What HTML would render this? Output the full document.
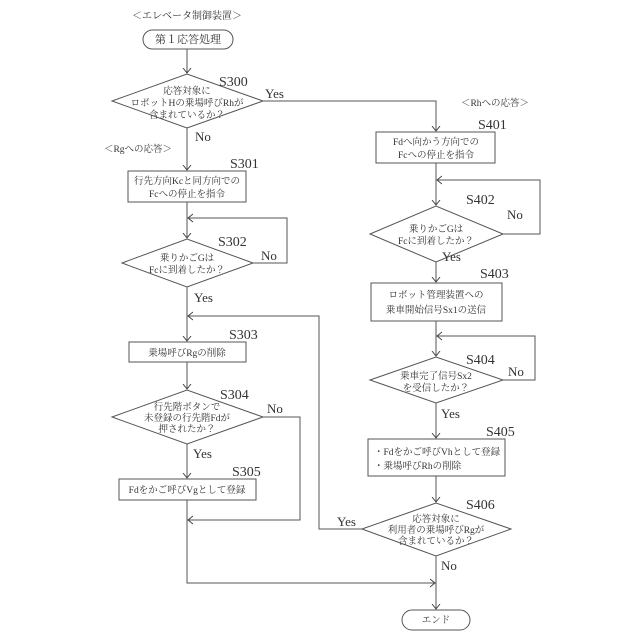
<!DOCTYPE html>
<html><head><meta charset="utf-8"><style>
html,body{margin:0;padding:0;background:#fff}
svg{display:block}
text{font-family:"Liberation Serif","Noto Serif CJK JP","Noto Serif CJK SC",serif;fill:#333}
.t{font-size:9.5px;text-anchor:middle}
.s{font-size:14px}
.l{font-size:13px}
</style></head><body>
<svg width="640" height="640" viewBox="0 0 640 640" xmlns="http://www.w3.org/2000/svg">
<defs><marker id="a" markerWidth="10" markerHeight="10" refX="5" refY="5" orient="auto" markerUnits="userSpaceOnUse"><path d="M0,1 L5,5 L0,9" fill="none" stroke="#444" stroke-width="1"/></marker></defs>
<g fill="none" stroke="#555" stroke-width="1">
<rect x="143" y="30" width="90" height="19" rx="9.5"/>
<polygon points="112,101 187,74 263,101 187,128"/>
<rect x="128" y="171" width="118" height="31"/>
<polygon points="122,263 187,239 253,263 187,287"/>
<rect x="129" y="342" width="117" height="20"/>
<polygon points="112,417 187,390 263,417 187,444"/>
<rect x="119" y="479" width="137" height="21"/>
<rect x="402" y="610" width="68" height="20" rx="10"/>
<rect x="376" y="132" width="119" height="31"/>
<polygon points="370,234 436,206 503,234 436,262"/>
<rect x="371" y="283" width="131" height="38"/>
<polygon points="370,380 436,357 503,380 436,403"/>
<rect x="368" y="439" width="137" height="37"/>
<polygon points="362,529 436,503 511,529 436,556"/>
<!-- connectors -->
<path d="M187,49 V73" marker-end="url(#a)"/>
<path d="M187,128 V170" marker-end="url(#a)"/>
<path d="M187,202 V238" marker-end="url(#a)"/>
<path d="M253,263 H287 V218 H188" marker-end="url(#a)"/>
<path d="M187,287 V341" marker-end="url(#a)"/>
<path d="M511,529 H511"/>
<path d="M362,529 H319 V316 H188" marker-end="url(#a)"/>
<path d="M187,362 V389" marker-end="url(#a)"/>
<path d="M187,444 V478" marker-end="url(#a)"/>
<path d="M263,417 H300 V520 H188" marker-end="url(#a)"/>
<path d="M187,500 V583 H435" marker-end="url(#a)"/>
<path d="M263,101 H436 V131" marker-end="url(#a)"/>
<path d="M436,163 V205" marker-end="url(#a)"/>
<path d="M503,234 H540 V180 H437" marker-end="url(#a)"/>
<path d="M436,262 V282" marker-end="url(#a)"/>
<path d="M436,321 V356" marker-end="url(#a)"/>
<path d="M503,380 H535 V336 H437" marker-end="url(#a)"/>
<path d="M436,403 V438" marker-end="url(#a)"/>
<path d="M436,476 V502" marker-end="url(#a)"/>
<path d="M436,556 V609" marker-end="url(#a)"/>
</g>
<text class="t" x="187" y="19" style="font-size:10px">＜エレベータ制御装置＞</text>
<text class="t" x="188" y="43" style="font-size:11px">第１応答処理</text>
<text class="t" x="187" y="94">応答対象に</text>
<text class="t" x="187" y="106">ロボットHの乗場呼びRhが</text>
<text class="t" x="187" y="118">含まれているか？</text>
<text class="s" x="219" y="86">S300</text>
<text class="l" x="265" y="98">Yes</text>
<text class="l" x="195" y="141">No</text>
<text class="t" x="138" y="152">＜Rgへの応答＞</text>
<text class="s" x="230" y="168">S301</text>
<text class="t" x="187" y="184">行先方向Kcと同方向での</text>
<text class="t" x="187" y="197">Fcへの停止を指令</text>
<text class="s" x="218" y="246">S302</text>
<text class="t" x="187" y="261">乗りかごGは</text>
<text class="t" x="187" y="273">Fcに到着したか？</text>
<text class="l" x="261" y="260">No</text>
<text class="l" x="194" y="302">Yes</text>
<text class="s" x="229" y="339">S303</text>
<text class="t" x="187" y="356">乗場呼びRgの削除</text>
<text class="s" x="220" y="399">S304</text>
<text class="t" x="187" y="410">行先階ボタンで</text>
<text class="t" x="187" y="421">未登録の行先階Fdが</text>
<text class="t" x="187" y="432">押されたか？</text>
<text class="l" x="267" y="413">No</text>
<text class="l" x="193" y="458">Yes</text>
<text class="s" x="232" y="476">S305</text>
<text class="t" x="187" y="493">Fdをかご呼びVgとして登録</text>
<text class="t" x="436" y="623">エンド</text>
<text class="t" x="495" y="106">＜Rhへの応答＞</text>
<text class="s" x="478" y="129">S401</text>
<text class="t" x="436" y="145">Fdへ向かう方向での</text>
<text class="t" x="436" y="158">Fcへの停止を指令</text>
<text class="s" x="466" y="204">S402</text>
<text class="t" x="436" y="232">乗りかごGは</text>
<text class="t" x="436" y="244">Fcに到着したか？</text>
<text class="l" x="507" y="219">No</text>
<text class="l" x="442" y="261">Yes</text>
<text class="s" x="480" y="278">S403</text>
<text class="t" x="436" y="298">ロボット管理装置への</text>
<text class="t" x="436" y="313">乗車開始信号Sx1の送信</text>
<text class="s" x="466" y="364">S404</text>
<text class="t" x="436" y="379">乗車完了信号Sx2</text>
<text class="t" x="436" y="391">を受信したか？</text>
<text class="l" x="508" y="376">No</text>
<text class="l" x="441" y="418">Yes</text>
<text class="s" x="486" y="436">S405</text>
<text class="t" x="374" y="455" style="text-anchor:start">・Fdをかご呼びVhとして登録</text>
<text class="t" x="374" y="469" style="text-anchor:start">・乗場呼びRhの削除</text>
<text class="s" x="466" y="509">S406</text>
<text class="t" x="436" y="522">応答対象に</text>
<text class="t" x="436" y="533">利用者の乗場呼びRgが</text>
<text class="t" x="436" y="544">含まれているか？</text>
<text class="l" x="337" y="526">Yes</text>
<text class="l" x="441" y="570">No</text>
</svg>
</body></html>
